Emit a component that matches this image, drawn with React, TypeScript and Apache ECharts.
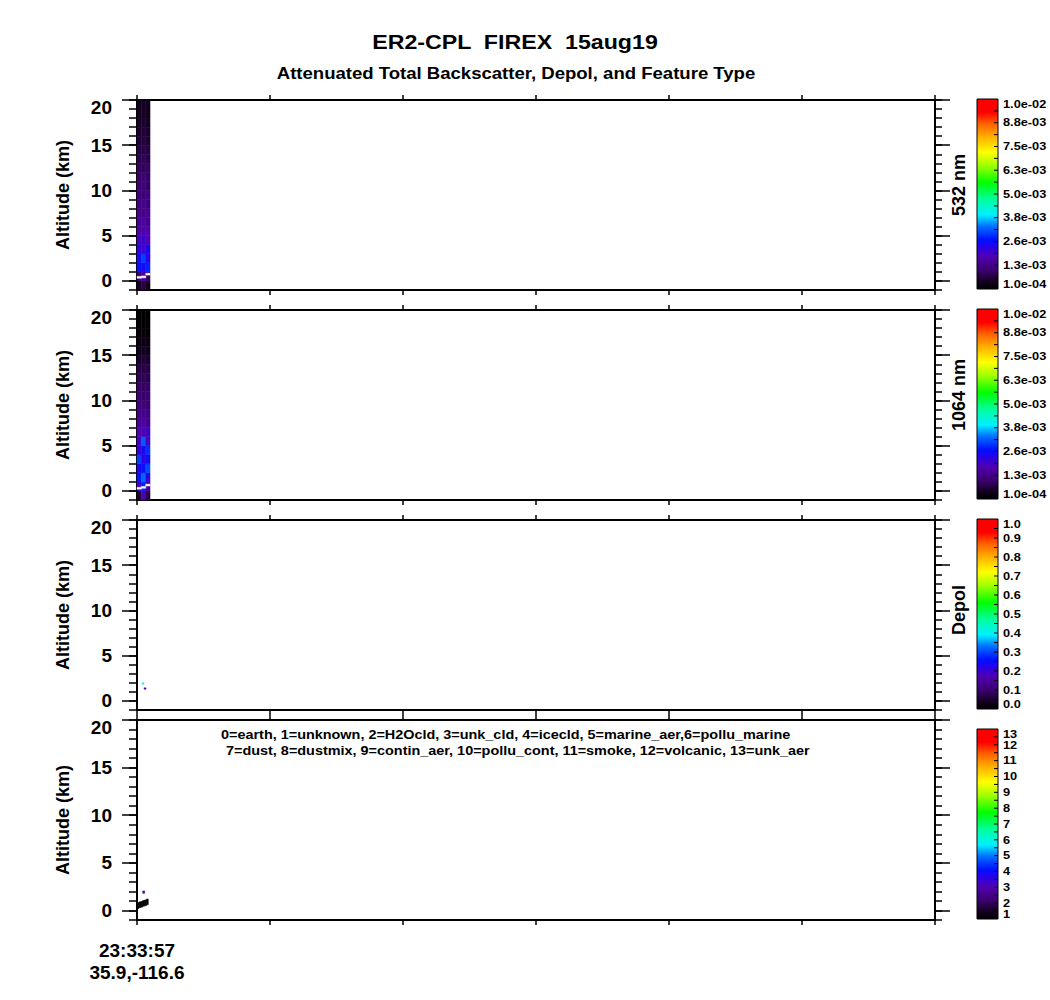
import React, { useEffect, useRef } from "react";
import * as echarts from "echarts";

const FONT = '"Liberation Sans", Arial, Helvetica, sans-serif';

// ---------- texts ----------
const chartTitle = "ER2-CPL  FIREX  15aug19";
const chartSubtitle = "Attenuated Total Backscatter, Depol, and Feature Type";
const altitudeAxisName = "Altitude (km)";
const panelLabels = ["532 nm", "1064 nm", "Depol"];
const featureTypeNames = [
  "earth", "unknown", "H2Ocld", "unk_cld", "icecld", "marine_aer", "pollu_marine",
  "dust", "dustmix", "contin_aer", "pollu_cont", "smoke", "volcanic", "unk_aer",
];

// ---------- axes ----------
const altMin = -1;
const altMax = 20;
const altMajorTicks = [0, 5, 10, 15, 20];
const profileMin = 0;
const profileMax = 600;
const profileStep = 100;
const startTimeLabel = "23:33:57";
const startPositionLabel = "35.9,-116.6";

// ---------- colour bar tick labels ----------
const bscColorbarLabels = ["1.0e-04", "1.3e-03", "2.6e-03", "3.8e-03", "5.0e-03", "6.3e-03", "7.5e-03", "8.8e-03", "1.0e-02"];
const depolColorbarLabels = ["0.0", "0.1", "0.2", "0.3", "0.4", "0.5", "0.6", "0.7", "0.8", "0.9", "1.0"];
const featureColorbarLabels = ["1", "2", "3", "4", "5", "6", "7", "8", "9", "10", "11", "12", "13"];
const bscRange = [0.1, 10]; // in 1e-3 units
const depolRange = [0, 1];
const featureRange = [1, 13];

// ---------- profile strip (data) ----------
const profileEdges = [0, 3.3, 6.6, 9.8];
const altBinBottoms = [-1, 0, 1, 2, 3, 4, 5, 6, 7, 8, 9, 10, 11, 12, 13, 14, 15, 16, 17, 18, 19];

// attenuated backscatter 532 nm, units of 1e-3, bins from -1 km upward (1 km each)
const bsc532Col1 = [0.5, 1.2, 2.6, 2.5, 2.2, 1.9, 1.7, 1.5, 1.4, 1.3, 1.2, 1.1, 1.0, 0.95, 0.85, 0.8, 0.7, 0.6, 0.55, 0.5, 0.45];
const bsc532Col2 = [0.8, 1.6, 2.4, 3.0, 2.0, 2.1, 1.6, 1.6, 1.3, 1.4, 1.1, 1.2, 1.1, 0.9, 0.9, 0.75, 0.7, 0.65, 0.6, 0.5, 0.5];
const bsc532Col3 = [0.4, 1.0, 2.8, 2.3, 2.4, 1.8, 1.8, 1.4, 1.5, 1.2, 1.3, 1.0, 1.0, 1.0, 0.8, 0.8, 0.65, 0.6, 0.5, 0.45, 0.45];
// attenuated backscatter 1064 nm, units of 1e-3
const bsc1064Col1 = [0.6, 2.0, 2.7, 2.4, 3.0, 2.1, 2.0, 1.8, 1.5, 1.3, 1.2, 1.1, 1.0, 0.9, 0.8, 0.6, 0.45, 0.35, 0.25, 0.2, 0.15];
const bsc1064Col2 = [1.8, 2.8, 3.3, 2.6, 2.2, 2.4, 3.2, 1.7, 1.6, 1.4, 1.2, 1.0, 0.95, 0.9, 0.75, 0.65, 0.5, 0.3, 0.25, 0.15, 0.15];
const bsc1064Col3 = [0.8, 1.5, 2.2, 3.1, 2.5, 2.9, 1.9, 2.0, 1.4, 1.3, 1.1, 1.1, 1.0, 0.85, 0.8, 0.6, 0.45, 0.35, 0.2, 0.2, 0.1];
// saturated ground return altitude (km) per column
const ground532 = [0.4, 0.45, 0.75];
const ground1064 = [0.3, 0.4, 0.65];

// depolarization ratio features
const depolProfile = [3.8, 5.3];
const depolAlt = [1.85, 1.3];
const depolValue = [0.4, 0.15];

// feature type cells
const featureProfile = [0, 1.4, 2.8, 4.2, 5.6, 7.0, 4.3];
const featureAlt = [0.2, 0.3, 0.35, 0.45, 0.5, 0.6, 1.8];
const featureValue = [0, 0, 0, 0, 0, 0, 3];

// ---------- layout ----------
const panelTops = [100, 310, 520, 720];
const panelHeights = [190, 190, 190, 200];
const barTops = [99, 309, 519, 729];
const PLOT_LEFT = 137;
const PLOT_WIDTH = 798;
const BAR_LEFT = 977;
const BAR_WIDTH = 21;
const BAR_HEIGHT = 190;

const cmapStops: [number, string][] = [
  [0, "#000000"], [0.04, "#140020"], [0.1, "#3c0070"], [0.17, "#5000b0"], [0.22, "#2800e8"],
  [0.26, "#0010ff"], [0.33, "#0070ff"], [0.39, "#00f0ff"], [0.47, "#00ffa0"], [0.56, "#00ff00"],
  [0.65, "#a0ff00"], [0.72, "#ffff00"], [0.8, "#ffb000"], [0.87, "#ff6000"], [0.93, "#ff0000"], [1, "#ff0000"],
];

function hexToRgb(h: string) {
  const n = parseInt(h.slice(1), 16);
  return [(n >> 16) & 255, (n >> 8) & 255, n & 255];
}
function cmap(frac: number) {
  const f = Math.max(0, Math.min(1, frac));
  for (let i = 1; i < cmapStops.length; i++) {
    if (f <= cmapStops[i][0]) {
      const [o0, c0] = cmapStops[i - 1];
      const [o1, c1] = cmapStops[i];
      const t = o1 === o0 ? 0 : (f - o0) / (o1 - o0);
      const a = hexToRgb(c0);
      const b = hexToRgb(c1);
      const r = a.map((v, k) => Math.round(v + (b[k] - v) * t));
      return `rgb(${r[0]},${r[1]},${r[2]})`;
    }
  }
  return cmapStops[cmapStops.length - 1][1];
}
const bscColor = (v: number) => cmap((v - bscRange[0]) / (bscRange[1] - bscRange[0]));
const depolColor = (v: number) => cmap((v - depolRange[0]) / (depolRange[1] - depolRange[0]));
const featureColor = (v: number) => (v < featureRange[0] ? "#000000" : cmap((v - featureRange[0]) / (featureRange[1] - featureRange[0])));

function stripCells(cols: number[][]) {
  return cols.flatMap((col, c) =>
    col.map((v, k) => [profileEdges[c], profileEdges[c + 1], altBinBottoms[k], altBinBottoms[k] + 1, v])
  );
}
function groundCells(g: number[]) {
  return g.map((a, c) => [profileEdges[c], profileEdges[c + 1], a - 0.1, a + 0.1, 0]);
}

function cellRenderer(colorFn: (v: number) => string) {
  return (params: any, api: any) => {
    const x0 = api.value(0), x1 = api.value(1), y0 = api.value(2), y1 = api.value(3), v = api.value(4);
    const p0 = api.coord([x0, y1]);
    const p1 = api.coord([x1, y0]);
    const cs = params.coordSys;
    const shape = echarts.graphic.clipRectByRect(
      { x: p0[0], y: p0[1], width: p1[0] - p0[0], height: p1[1] - p0[1] },
      { x: cs.x, y: cs.y, width: cs.width, height: cs.height }
    );
    if (!shape) return null;
    const c = colorFn(v);
    return { type: "rect", shape, style: { fill: c, stroke: c, lineWidth: 0.5 } };
  };
}

function buildOption() {
  const black = "#000";
  const grid = panelTops.map((t, i) => ({
    left: PLOT_LEFT, top: t, width: PLOT_WIDTH, height: panelHeights[i], containLabel: false, outerBoundsMode: "none",
  }));

  const xAxis = panelTops.flatMap((_, i) =>
    ["bottom", "top"].map((pos) => ({
      type: "value", gridIndex: i, position: pos, min: profileMin, max: profileMax, interval: profileStep,
      axisLine: { show: true, onZero: false, lineStyle: { color: black, width: 2 } },
      axisTick: { show: true, inside: false, length: 5, lineStyle: { color: black, width: 1.5 } },
      splitLine: { show: false },
      axisLabel:
        pos === "bottom" && i === 3
          ? {
              show: true,
              formatter: (v: number) => (v === profileMin ? `${startTimeLabel}\n${startPositionLabel}` : ""),
              fontSize: 19, fontWeight: "bold", fontFamily: FONT, color: black, lineHeight: 22, margin: 19,
            }
          : { show: false },
    }))
  );

  const yBase = { type: "value", min: altMin, max: altMax, splitLine: { show: false } };
  const yAxis = panelTops.flatMap((_, i) => [
    {
      ...yBase, gridIndex: i, position: "left",
      axisLine: { show: true, onZero: false, lineStyle: { color: black, width: 2 } },
      axisTick: { show: true, customValues: altMajorTicks, length: 15, lineStyle: { color: black, width: 1.5 } },
      axisLabel: {
        show: true, customValues: altMajorTicks, fontSize: 19, fontWeight: "bold", fontFamily: FONT, color: black, margin: 25,
        formatter: (v: number) => (v === altMax ? `{top|${v}}` : `${v}`),
        rich: { top: { fontSize: 19, fontWeight: "bold", fontFamily: FONT, color: black, padding: [15, 0, 0, 0] } },
      },
      name: altitudeAxisName, nameLocation: "middle", nameGap: 65,
      nameTextStyle: { fontSize: 18, fontWeight: "bold", fontFamily: FONT, color: black },
    },
    {
      ...yBase, gridIndex: i, position: "left", interval: 1,
      axisLine: { show: false, onZero: false },
      axisTick: { show: true, length: 8, lineStyle: { color: black, width: 1.5 } },
      axisLabel: { show: false },
    },
    {
      ...yBase, gridIndex: i, position: "right",
      axisLine: { show: true, onZero: false, lineStyle: { color: black, width: 2 } },
      axisTick: { show: true, customValues: altMajorTicks, length: 15, lineStyle: { color: black, width: 1.5 } },
      axisLabel: { show: false },
    },
    {
      ...yBase, gridIndex: i, position: "right", interval: 1,
      axisLine: { show: false, onZero: false },
      axisTick: { show: true, length: 7, lineStyle: { color: black, width: 1.5 } },
      axisLabel: { show: false },
    },
  ]);

  const white = () => "#ffffff";
  const series: any[] = [
    { type: "custom", coordinateSystem: "cartesian2d", xAxisIndex: 0, yAxisIndex: 0, data: stripCells([bsc532Col1, bsc532Col2, bsc532Col3]), renderItem: cellRenderer(bscColor) },
    { type: "custom", coordinateSystem: "cartesian2d", xAxisIndex: 0, yAxisIndex: 0, data: groundCells(ground532), renderItem: cellRenderer(white) },
    { type: "custom", coordinateSystem: "cartesian2d", xAxisIndex: 2, yAxisIndex: 4, data: stripCells([bsc1064Col1, bsc1064Col2, bsc1064Col3]), renderItem: cellRenderer(bscColor) },
    { type: "custom", coordinateSystem: "cartesian2d", xAxisIndex: 2, yAxisIndex: 4, data: groundCells(ground1064), renderItem: cellRenderer(white) },
    {
      type: "custom", coordinateSystem: "cartesian2d", xAxisIndex: 4, yAxisIndex: 8,
      data: depolProfile.map((x, k) => [x, x + 1.5, depolAlt[k], depolAlt[k] + 0.15, depolValue[k]]),
      renderItem: cellRenderer(depolColor),
    },
    {
      type: "custom", coordinateSystem: "cartesian2d", xAxisIndex: 6, yAxisIndex: 12,
      data: featureProfile.map((x, k) =>
        featureValue[k] === 0 ? [x, x + 1.5, featureAlt[k], featureAlt[k] + 0.6, featureValue[k]] : [x, x + 1.5, featureAlt[k], featureAlt[k] + 0.25, featureValue[k]]
      ),
      renderItem: cellRenderer(featureColor),
    },
  ];

  // ---------- graphic: titles, side labels, colour bars, legend text ----------
  const g: any[] = [];
  g.push({
    type: "text", x: 515, y: 42, scaleX: 1.16,
    style: { text: chartTitle, font: `bold 20px ${FONT}`, fill: black, align: "center", verticalAlign: "middle", textAlign: "center", textVerticalAlign: "middle" },
  });
  g.push({
    type: "text", x: 516, y: 73, scaleX: 1.16,
    style: { text: chartSubtitle, font: `bold 16px ${FONT}`, fill: black, align: "center", verticalAlign: "middle", textAlign: "center", textVerticalAlign: "middle" },
  });
  const sideLabelY = [185, 395, 610];
  panelLabels.forEach((t, i) => {
    g.push({
      type: "text", x: 959, y: sideLabelY[i], rotation: Math.PI / 2,
      style: { text: t, font: `bold 18px ${FONT}`, fill: black, align: "center", verticalAlign: "middle", textAlign: "center", textVerticalAlign: "middle" },
    });
  });

  const gradient = {
    type: "linear", x: 0, y: 1, x2: 0, y2: 0,
    colorStops: cmapStops.map(([o, c]) => ({ offset: o, color: c })),
  };
  const barLabels = [bscColorbarLabels, bscColorbarLabels, depolColorbarLabels, featureColorbarLabels];
  barTops.forEach((top, i) => {
    g.push({
      type: "rect", shape: { x: BAR_LEFT, y: top, width: BAR_WIDTH, height: BAR_HEIGHT },
      style: { fill: gradient, stroke: black, lineWidth: 1 },
    });
    const labels = barLabels[i];
    const n = labels.length;
    const step = BAR_HEIGHT / (n - 1);
    for (let k = 0; k < n; k++) {
      const y = top + BAR_HEIGHT - k * step;
      if (k > 0 && k < n - 1) {
        g.push({ type: "line", shape: { x1: BAR_LEFT + BAR_WIDTH - 4, y1: y, x2: BAR_LEFT + BAR_WIDTH, y2: y }, style: { stroke: black, lineWidth: 1 } });
      }
      if (k < n - 1) {
        const ym = y - step / 2;
        g.push({ type: "line", shape: { x1: BAR_LEFT + BAR_WIDTH - 4, y1: ym, x2: BAR_LEFT + BAR_WIDTH, y2: ym }, style: { stroke: black, lineWidth: 1 } });
      }
      const va = k === 0 ? "bottom" : k === n - 1 ? "top" : "middle";
      const yy = k === 0 ? top + BAR_HEIGHT + 1 : k === n - 1 ? top : y;
      g.push({
        type: "text", x: BAR_LEFT + BAR_WIDTH + 5, y: yy, scaleX: 1.16,
        style: { text: labels[k], font: `bold 11px ${FONT}`, fill: black, align: "left", verticalAlign: va, textAlign: "left", textVerticalAlign: va },
      });
    }
  });

  const legendLine1 =
    featureTypeNames.slice(0, 6).map((n, i) => `${i}=${n}`).join(", ") + `,6=${featureTypeNames[6]}`;
  const legendLine2 = featureTypeNames.slice(7).map((n, i) => `${i + 7}=${n}`).join(", ");
  g.push({
    type: "text", x: 221, y: 735, scaleX: 1.11,
    style: { text: legendLine1, font: `bold 13px ${FONT}`, fill: black, align: "left", verticalAlign: "middle", textAlign: "left", textVerticalAlign: "middle" },
  });
  g.push({
    type: "text", x: 226, y: 751, scaleX: 1.11,
    style: { text: legendLine2, font: `bold 13px ${FONT}`, fill: black, align: "left", verticalAlign: "middle", textAlign: "left", textVerticalAlign: "middle" },
  });

  return {
    animation: false,
    backgroundColor: "#ffffff",
    grid,
    xAxis,
    yAxis,
    series,
    graphic: { elements: g },
  };
}

export default function App() {
  const ref = useRef<HTMLDivElement>(null);
  useEffect(() => {
    if (!ref.current) return;
    const chart = echarts.init(ref.current, undefined, { renderer: "svg" });
    chart.setOption(buildOption() as any);
    return () => chart.dispose();
  }, []);
  return (
    <div
      ref={ref}
      style={{ position: "absolute", left: 0, top: 0, width: 1050, height: 1000, background: "#fff" }}
    />
  );
}
